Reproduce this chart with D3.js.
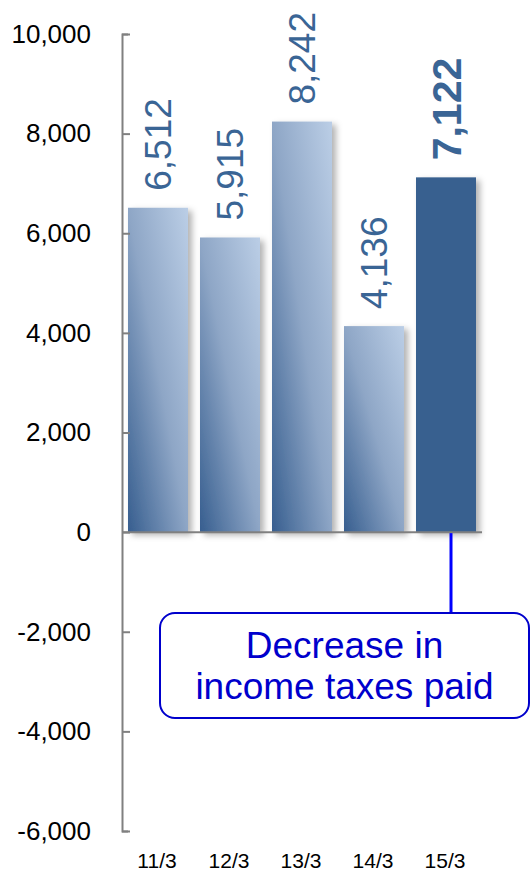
<!DOCTYPE html>
<html>
<head>
<meta charset="utf-8">
<script src="https://cdn.jsdelivr.net/npm/d3@7"></script>
<style>
  html, body { margin: 0; padding: 0; background: #fff; }
  svg { display: block; font-family: "Liberation Sans", Arial, sans-serif; }
</style>
</head>
<body>
<svg id="chart" width="531" height="873"></svg>
<script>
// Fiscal years and income taxes paid
const categories = ["11/3", "12/3", "13/3", "14/3", "15/3"];
const values = [6512, 5915, 8242, 4136, 7122];
const highlighted = [false, false, false, false, true];
const yTicks = [-6000, -4000, -2000, 0, 2000, 4000, 6000, 8000, 10000];
const calloutLines = ["Decrease in", "income taxes paid"];

const svg = d3.select("#chart");
const locale = d3.formatLocale({
  decimal: ".", thousands: ",", grouping: [3], currency: ["$", ""], minus: "-"
});
const fmt = locale.format(",");

const x = d3.scaleBand()
  .domain(categories)
  .range([122, 482])
  .paddingInner(1 / 6)
  .paddingOuter(1 / 12);

const y = d3.scaleLinear()
  .domain([-6000, 10000])
  .range([831, 34]);

const defs = svg.append("defs");

const grad = defs.append("linearGradient")
  .attr("id", "barGrad")
  .attr("gradientUnits", "objectBoundingBox")
  .attr("x1", 0).attr("y1", 1)
  .attr("x2", 1).attr("y2", 0);
grad.append("stop").attr("offset", 0).attr("stop-color", "#375e8f");
grad.append("stop").attr("offset", 0.5).attr("stop-color", "#8ea6c6");
grad.append("stop").attr("offset", 1).attr("stop-color", "#bbcee6");

const shadow = defs.append("filter")
  .attr("id", "shadow")
  .attr("x", "-20%").attr("y", "-10%")
  .attr("width", "150%").attr("height", "130%");
shadow.append("feDropShadow")
  .attr("dx", 4).attr("dy", 3)
  .attr("stdDeviation", 3)
  .attr("flood-color", "#000")
  .attr("flood-opacity", 0.3);

// Bars
svg.append("g")
  .selectAll("rect")
  .data(values)
  .join("rect")
  .attr("x", (d, i) => x(categories[i]))
  .attr("width", x.bandwidth())
  .attr("y", d => y(d))
  .attr("height", d => y(0) - y(d))
  .attr("fill", (d, i) => highlighted[i] ? "#37618f" : "url(#barGrad)")
  .attr("filter", "url(#shadow)");

// Value axis with inward ticks
const yAxis = d3.axisLeft(y)
  .tickValues(yTicks)
  .tickFormat(fmt)
  .tickSizeInner(-8)
  .tickSizeOuter(-6)
  .tickPadding(31);

const ag = svg.append("g")
  .attr("transform", "translate(122,0)")
  .call(yAxis);
ag.select(".domain").attr("stroke", "#808080").attr("stroke-width", 2);
ag.selectAll(".tick line").attr("stroke", "#808080").attr("stroke-width", 2);
ag.selectAll(".tick text")
  .attr("fill", "#000")
  .style("font-size", "26px")
  .style("font-family", "'Liberation Sans', Arial, sans-serif");

// Zero baseline
svg.append("line")
  .attr("x1", 122).attr("x2", 482)
  .attr("y1", y(0)).attr("y2", y(0))
  .attr("stroke", "#808080")
  .attr("stroke-width", 2);

// Rotated value labels
svg.append("g")
  .selectAll("text")
  .data(values)
  .join("text")
  .attr("transform", (d, i) =>
    `translate(${x(categories[i]) + x.bandwidth() / 2},${y(d) - 17}) rotate(-90)`)
  .attr("dy", "0.36em")
  .attr("text-anchor", "start")
  .attr("fill", "#3a6595")
  .style("font-size", (d, i) => highlighted[i] ? "41px" : "37px")
  .style("font-weight", (d, i) => highlighted[i] ? "bold" : "normal")
  .text(d => fmt(d));

// Category labels
svg.append("g")
  .selectAll("text")
  .data(categories)
  .join("text")
  .attr("x", d => x(d) + x.bandwidth() / 2 - 1)
  .attr("y", 868)
  .attr("text-anchor", "middle")
  .attr("fill", "#000")
  .style("font-size", "21px")
  .text(d => d);

// Callout for the latest year
const lastIdx = categories.length - 1;
const lineX = x(categories[lastIdx]) + x.bandwidth() / 2 + 5;
svg.append("line")
  .attr("x1", lineX).attr("x2", lineX)
  .attr("y1", y(0) + 1).attr("y2", 613)
  .attr("stroke", "#0000ff")
  .attr("stroke-width", 3);

svg.append("rect")
  .attr("x", 160).attr("y", 613)
  .attr("width", 369).attr("height", 105)
  .attr("rx", 15).attr("ry", 15)
  .attr("fill", "#fff")
  .attr("stroke", "#0000cc")
  .attr("stroke-width", 2);

svg.append("g")
  .selectAll("text")
  .data(calloutLines)
  .join("text")
  .attr("x", 344.5)
  .attr("y", (d, i) => 658 + i * 41)
  .attr("text-anchor", "middle")
  .attr("fill", "#0000cc")
  .style("font-size", "37px")
  .text(d => d);
</script>
</body>
</html>
